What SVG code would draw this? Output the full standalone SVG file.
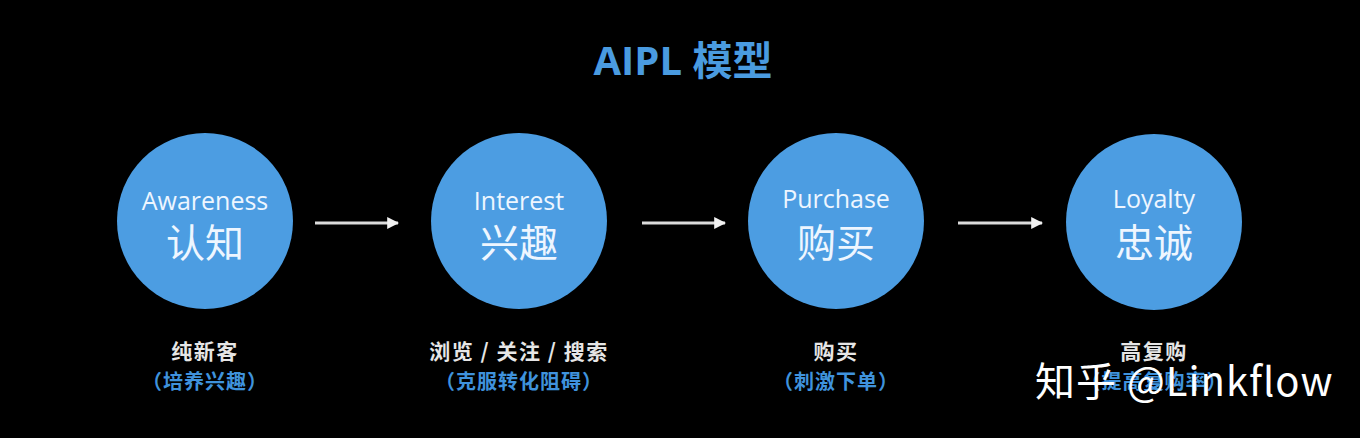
<svg xmlns="http://www.w3.org/2000/svg" width="1360" height="438" viewBox="0 0 1360 438">
<style>
.title{font-family:"Open Sans","Noto Sans CJK SC",sans-serif;font-weight:bold;font-size:40px;fill:#4a9be0;text-anchor:middle}
.en{font-family:"Open Sans","Noto Sans CJK SC",sans-serif;font-size:25px;fill:#eef6ff;text-anchor:middle}
.zh{font-family:"Noto Sans CJK SC",sans-serif;font-size:39px;fill:#eef6ff;text-anchor:middle}
.lab{font-family:"Noto Sans CJK SC",sans-serif;font-weight:bold;font-size:21px;letter-spacing:1.5px;fill:#e6e6e6;text-anchor:middle}
.sub{font-family:"Noto Sans CJK SC",sans-serif;font-weight:bold;font-size:20px;letter-spacing:1px;fill:#3f92dc;text-anchor:middle}
.node{fill:#4c9de2}
.wm{font-family:"Noto Sans CJK SC",sans-serif;font-size:40px;letter-spacing:1px;fill:#ffffff}
</style>
<defs>
<marker id="ah" viewBox="0 0 10 10" refX="9" refY="5" markerWidth="4" markerHeight="4" orient="auto" markerUnits="strokeWidth">
<path d="M0,0 L10,5 L0,10 z" fill="#f2f2f2"/>
</marker>
</defs>
<rect width="1360" height="438" fill="#000"/>
<text class="title" x="683" y="75">AIPL 模型</text>
<g id="connectors" stroke="#dcdcdc" stroke-width="3" fill="none">
<line x1="315" y1="223" x2="398" y2="223" marker-end="url(#ah)"/>
<line x1="642" y1="223" x2="725" y2="223" marker-end="url(#ah)"/>
<line x1="958" y1="223" x2="1042" y2="223" marker-end="url(#ah)"/>
</g>
<g id="awareness">
<circle class="node" cx="205" cy="221" r="88"/>
<text class="en" x="205" y="210">Awareness</text>
<text class="zh" x="205" y="257">认知</text>
<text class="lab" x="205" y="359">纯新客</text>
<text class="sub" x="205" y="389">（培养兴趣）</text>
</g>
<g id="interest">
<circle class="node" cx="519" cy="221" r="88"/>
<text class="en" x="519" y="210">Interest</text>
<text class="zh" x="519" y="257">兴趣</text>
<text class="lab" x="519" y="359">浏览 / 关注 / 搜索</text>
<text class="sub" x="519" y="389">（克服转化阻碍）</text>
</g>
<g id="purchase">
<circle class="node" cx="836" cy="221" r="88"/>
<text class="en" x="836" y="208">Purchase</text>
<text class="zh" x="836" y="257">购买</text>
<text class="lab" x="836" y="359">购买</text>
<text class="sub" x="836" y="389">（刺激下单）</text>
</g>
<g id="loyalty">
<circle class="node" cx="1154" cy="222" r="88"/>
<text class="en" x="1154" y="208">Loyalty</text>
<text class="zh" x="1154" y="257">忠诚</text>
<text class="lab" x="1154" y="359">高复购</text>
<text class="sub" x="1154" y="389">（提高复购率）</text>
</g>
<text class="wm" x="1035" y="396">知乎 @Linkflow</text>
</svg>
